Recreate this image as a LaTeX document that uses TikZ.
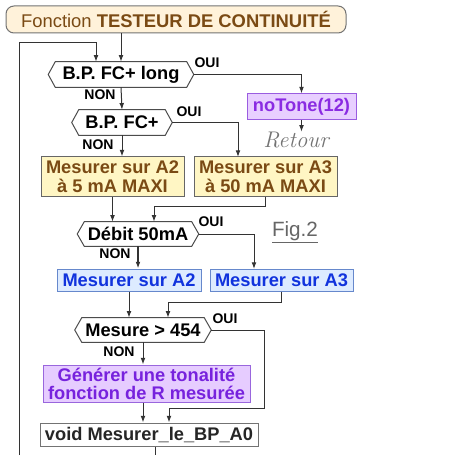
\documentclass[tikz,border=0pt]{standalone}
\usepackage{fontspec}
\setsansfont{Liberation Sans}
\usetikzlibrary{arrows.meta}
\definecolor{titlefill}{HTML}{FFF2DA}
\definecolor{browntxt}{HTML}{7A4A14}
\definecolor{ntfill}{HTML}{E8CFFF}
\definecolor{ntdraw}{HTML}{9A5CE0}
\definecolor{nttext}{HTML}{8A2BE2}
\definecolor{yfill}{HTML}{FFF6C4}
\definecolor{ydraw}{HTML}{666666}
\definecolor{bfill}{HTML}{DDEBFF}
\definecolor{bdraw}{HTML}{6688CC}
\definecolor{btext}{HTML}{1133DD}
\definecolor{pfill}{HTML}{E6CCFF}
\definecolor{pdraw}{HTML}{9966DD}
\definecolor{ptext}{HTML}{7722DD}
\newdimen\pu \pu=0.75pt
\newcommand\hexdraw[1]{\draw[line width=0.75pt, draw=black!70] (#1.west) -- ([xshift=5.25pt]#1.north west) -- ([xshift=-5.25pt]#1.north east) -- (#1.east) -- ([xshift=-5.25pt]#1.south east) -- ([xshift=5.25pt]#1.south west) -- cycle;}
\begin{document}
\begin{tikzpicture}[x=0.75pt,y=-0.75pt,
  font=\sffamily\bfseries\fontsize{13.7}{15}\selectfont,
  line/.style={draw=black!80, line width=0.75pt},
  arr/.style={line, -{Latex[length=5pt,width=3.6pt]}},
  box/.style={draw, line width=0.75pt, inner sep=0pt, align=center},
  decis/.style={inner sep=0pt, align=center},
  lab/.style={font=\sffamily\bfseries\fontsize{10.5}{12}\selectfont, inner sep=0pt},
  ybox/.style={box, fill=yfill, draw=ydraw, text=browntxt, minimum width=143\pu, minimum height=40\pu},
  bbox/.style={box, fill=bfill, draw=bdraw, text=btext, minimum width=143\pu, minimum height=22\pu}]
\useasboundingbox[fill=white] (0,0) rectangle (454,459);

% title
\node[box, rounded corners=6pt, fill=titlefill, draw=black!55, text=browntxt,
  minimum width=340\pu, minimum height=27\pu,
  font=\sffamily\fontsize{13.8}{15}\selectfont] (title) at (176,19.5)
  {Fonction \textbf{TESTEUR DE CONTINUIT\'E}};

% decisions
\node[decis, minimum width=145\pu, minimum height=25\pu] (d1) at (121,74.5) {B.P. FC+ long};
\hexdraw{d1}
\node[decis, minimum width=100\pu, minimum height=25\pu] (d2) at (122,122.5) {B.P. FC+};
\hexdraw{d2}
\node[decis, minimum width=121\pu, minimum height=24\pu] (d3) at (138,234) {D\'ebit 50mA};
\hexdraw{d3}
\node[decis, minimum width=136\pu, minimum height=24\pu] (d4) at (143,330) {Mesure > 454};
\hexdraw{d4}

% boxes
\node[box, fill=ntfill, draw=ntdraw, text=nttext, minimum width=109\pu, minimum height=26\pu] (nt) at (301.5,107) {noTone(12)};
\node[font=\rmfamily\itshape\fontsize{17}{17}\selectfont, text=black!55, inner sep=0pt] (ret) at (296,140) {Retour};
\node[ybox] (a2) at (112.5,177) {Mesurer sur A2\\[-1pt]\`a 5 mA MAXI};
\node[ybox] (a3) at (265.5,177) {Mesurer sur A3\\[-1pt]\`a 50 mA MAXI};
\node[bbox, minimum width=144\pu] (b2) at (129,280) {Mesurer sur A2};
\node[bbox] (b3) at (281.5,280) {Mesurer sur A3};
\node[box, fill=pfill, draw=pdraw, text=ptext, minimum width=207\pu, minimum height=37\pu] (pg) at (146.5,383.5) {G\'en\'erer une tonalit\'e\\[-1.5pt]fonction de R mesur\'ee};
\node[box, draw=black!55, text=black!85, minimum width=218\pu, minimum height=23\pu] (vd) at (149,434.5) {void Mesurer\_le\_BP\_A0};

\node[font=\sffamily\fontsize{15.5}{17}\selectfont, text=black!60, inner sep=0pt] (fig) at (295,232) {\underline{Fig.2}};

% labels
\node[lab] (o1) at (207,63) {OUI};
\node[lab] (n1) at (100,95) {NON};
\node[lab] (o2) at (189,112) {OUI};
\node[lab] (n2) at (98,145) {NON};
\node[lab] (o3) at (211,222) {OUI};
\node[lab] (n3) at (115,254) {NON};
\node[lab] (o4) at (225,319) {OUI};
\node[lab] (n4) at (119,352) {NON};

% helper coordinates
\coordinate (ltop) at (19,43);
\coordinate (lbot) at (19,455);
\coordinate (loopin) at (96,43);
\coordinate (a3in) at (238,157);
\coordinate (j1) at (154,207);
\coordinate (b3in) at (254,269);
\coordinate (j2) at (168,302);
\coordinate (k2) at (264,408);
\coordinate (k3) at (169,408);
\coordinate (vend) at (155,455);

% connectors
\draw[arr] (title.south -| d1.north) -- (d1.north);
\draw[arr] (lbot) -- (ltop) -- (loopin) -- (loopin |- d1.north);
\draw[arr] (d1.east) -| (nt.north);
\draw[arr] (nt.south) -- (nt.south |- ret.north);
\draw[arr] (d1.south) -- (d2.north);
\draw[arr] (d2.east) -| (a3in);
\draw[arr] (d2.south) -- (d2.south |- a2.north);
\draw[arr] (a2.south) -- (a2.south |- d3.north);
\draw[arr] (a3.south) |- (j1) -- (j1 |- d3.north);
\draw[arr] (d3.east) -| (b3in);
\draw[arr, line width=1.1pt] (d3.south) -- (d3.south |- b2.north);
\draw[arr] (b2.south) -- (b2.south |- d4.north);
\draw[arr] (b3.south) |- (j2) -- (j2 |- d4.north);
\draw[arr] (d4.east) -| (k2) -- (k3) -- (k3 |- vd.north);
\draw[arr] (d4.south) -- (d4.south |- pg.north);
\draw[arr] (d4.south |- pg.south) -- (d4.south |- vd.north);
\draw[line] (vend |- vd.south) -- (vend);
\end{tikzpicture}
\end{document}
